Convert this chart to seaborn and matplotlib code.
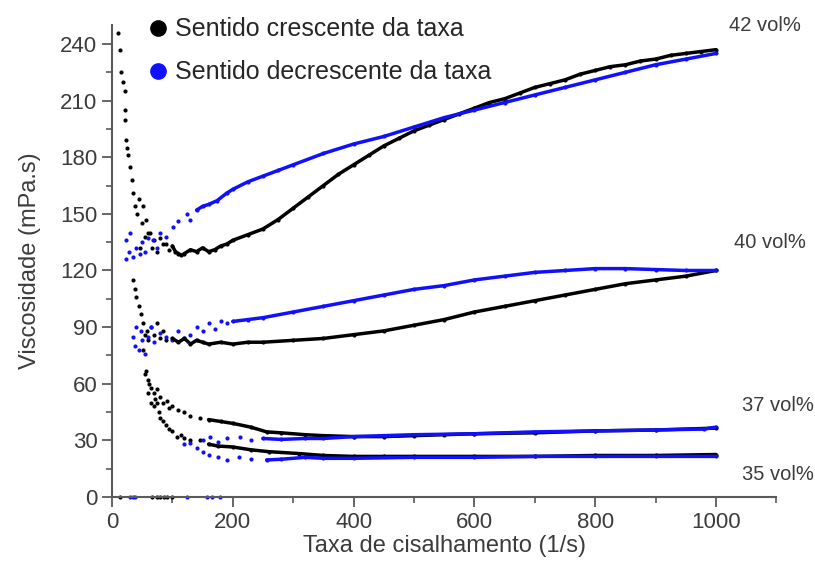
import pandas as pd
import matplotlib
matplotlib.use("Agg")
import matplotlib.pyplot as plt
import seaborn as sns
from matplotlib.lines import Line2D
from matplotlib.ticker import MultipleLocator

# Valores (taxa em 1/s, viscosidade em mPa.s)
# 42 vol% - sentido crescente
x42_up = [10, 13, 15, 18, 21, 21, 22, 24, 25, 27, 30, 33, 35, 38, 41, 44, 46, 50, 52, 55, 57, 60, 63, 66,
          70, 75, 80, 85, 90, 95, 100, 105, 110, 115, 120, 130, 140, 150, 160, 170, 180, 190, 200, 225,
          250, 275, 300, 325, 350, 375, 400, 425, 450, 475, 500, 525, 550, 575, 600, 625, 650, 675, 700,
          725, 750, 775, 800, 825, 850, 875, 900, 925, 950, 975, 1000]
y42_up = [246, 237, 225, 220, 215, 205, 200, 189, 185, 181, 175, 168, 161, 154, 150, 158, 132, 145, 154,
          138, 147, 140, 140, 132, 136, 130, 137, 134, 134, 131, 133, 130, 129, 128, 129, 131, 130, 132,
          130, 131, 133, 134, 136, 139, 142, 147, 153, 159, 165, 171, 176, 181, 186, 190, 194, 197, 200,
          203, 206, 209, 211, 214, 217, 219, 221, 224, 226, 228, 229, 231, 232, 234, 235, 236, 237]
# 42 vol% - sentido decrescente
x42_dn = [24, 24, 28, 30, 35, 40, 46, 50, 55, 60, 68, 75, 80, 90, 101, 110, 124, 130, 140, 150, 160, 174,
          190, 200, 225, 250, 275, 300, 350, 400, 450, 500, 550, 600, 650, 700, 750, 800, 850, 900, 950, 1000]
y42_dn = [136, 126, 130, 140, 127, 132, 129, 135, 130, 137, 136, 132, 140, 138, 143, 146, 150, 147, 152,
          154, 155, 157, 161, 163, 167, 170, 173, 176, 182, 187, 191, 196, 201, 205, 209, 213, 217, 221,
          225, 229, 232, 235]
# 40 vol% - sentido crescente
x40_up = [35, 38, 40, 45, 48, 52, 52, 55, 58, 60, 65, 70, 75, 80, 85, 90, 100, 110, 120, 130, 140, 150,
          160, 180, 200, 225, 250, 300, 350, 400, 450, 500, 550, 600, 650, 700, 750, 800, 850, 900, 950, 1000]
y40_up = [115, 110, 106, 101, 97, 92, 78, 86, 88, 83, 90, 86, 92, 84, 88, 83, 84, 82, 84, 81, 83, 82, 81,
          82, 81, 82, 82, 83, 84, 86, 88, 91, 94, 98, 101, 104, 107, 110, 113, 115, 117, 120]
# 40 vol% - sentido decrescente
x40_dn = [35, 38, 40, 45, 48, 50, 55, 60, 65, 70, 80, 90, 100, 110, 120, 130, 140, 150, 160, 170, 180,
          190, 200, 225, 250, 300, 350, 400, 450, 500, 550, 600, 650, 700, 750, 800, 850, 900, 950, 1000]
y40_dn = [85, 80, 90, 78, 88, 83, 76, 85, 90, 82, 87, 85, 83, 88, 84, 86, 90, 88, 92, 89, 93, 92, 93, 94,
          95, 98, 101, 104, 107, 110, 112, 115, 117, 119, 120, 121, 121, 120.5, 120, 120]
# 37 vol% - sentido crescente
x37_up = [55, 57, 60, 62, 65, 70, 72, 75, 80, 85, 91, 95, 100, 110, 120, 130, 146, 160, 180, 200, 230,
          256, 280, 320, 350, 400, 450, 500, 550, 600, 700, 800, 900, 1000]
y37_up = [65, 67, 62, 60, 58, 55, 52, 57, 53, 50, 51, 47, 48, 46, 45, 43, 42, 41, 40, 39, 37, 34.5, 34,
          33, 32.5, 32, 32, 32.5, 33, 33.5, 34, 35, 35.5, 36.5]
# 37 vol% - sentido decrescente
x37_dn = [150, 162, 175, 190, 212, 230, 250, 280, 320, 350, 400, 450, 500, 600, 700, 800, 900, 980, 1000]
y37_dn = [30, 32, 29, 31, 32, 30, 31, 30.5, 31, 31, 32, 32.5, 33, 33.5, 34.5, 35, 35.5, 36, 37]
# 35 vol% - sentido crescente
x35_up = [60, 65, 70, 74, 78, 80, 85, 90, 95, 100, 107, 115, 120, 130, 146, 160, 175, 200, 230, 260,
          310, 350, 400, 450, 500, 600, 700, 800, 900, 1000]
y35_up = [55, 50, 48, 50, 45, 42, 40, 38, 36, 35, 32, 33, 31, 30, 30, 28, 27, 26.5, 25, 24, 23, 22,
          21.5, 21.5, 21.5, 21.5, 21.5, 22, 22, 22.5]
# 35 vol% - sentido decrescente
x35_dn = [120, 129, 140, 150, 160, 175, 190, 210, 230, 256, 280, 320, 350, 400, 500, 600, 700, 800, 900, 1000]
y35_dn = [28, 28.6, 26, 24, 22, 21, 19.6, 21, 20, 19.6, 20, 21, 20.5, 20.5, 21, 21, 21.5, 21.5, 21.5, 21.5]
# pontos em zero (baixas taxas)
x0_up = [13, 66, 74, 80, 86, 91, 100]
x0_dn = [30, 34, 38, 124, 157, 165, 179]

preto = "#000000"
azul = "#1010ff"
cinza = "#3c3c3c"

# monta tabela longa
partes = []
series = [("42", "up", x42_up, y42_up, 100), ("42", "dn", x42_dn, y42_dn, 140),
          ("40", "up", x40_up, y40_up, 100), ("40", "dn", x40_dn, y40_dn, 200),
          ("37", "up", x37_up, y37_up, 150), ("37", "dn", x37_dn, y37_dn, 250),
          ("35", "up", x35_up, y35_up, 150), ("35", "dn", x35_dn, y35_dn, 250)]
for conc, sent, xs, ys, corte in series:
    d = pd.DataFrame({"taxa": xs, "visc": ys})
    d["conc"] = conc
    d["sentido"] = sent
    d["linha"] = d["taxa"] >= corte
    partes.append(d)
df = pd.concat(partes, ignore_index=True)

sns.set_style("ticks")
plt.rcParams["font.family"] = ["Liberation Sans", "DejaVu Sans"]

fig = plt.figure(figsize=(8.15, 5.61), dpi=100)
ax = fig.add_axes([0.1374, 0.1141, 0.8152, 0.8411])

for sent, cor in [("up", preto), ("dn", azul)]:
    sub = df[df["sentido"] == sent]
    for conc in ["42", "40", "37", "35"]:
        s = sub[(sub["conc"] == conc) & sub["linha"]]
        sns.lineplot(data=s, x="taxa", y="visc", color=cor, linewidth=2.5,
                     estimator=None, sort=True, ax=ax)
    sns.scatterplot(data=sub, x="taxa", y="visc", color=cor, s=9, linewidth=0, ax=ax, clip_on=False)

sns.scatterplot(x=x0_up, y=[0] * len(x0_up), color=preto, s=9, linewidth=0, ax=ax, clip_on=False)
sns.scatterplot(x=x0_dn, y=[0] * len(x0_dn), color=azul, s=9, linewidth=0, ax=ax, clip_on=False)

ax.set_xlim(0, 1100)
ax.set_ylim(0, 250)
ax.xaxis.set_major_locator(MultipleLocator(200))
ax.xaxis.set_minor_locator(MultipleLocator(100))
ax.yaxis.set_major_locator(MultipleLocator(30))
ax.yaxis.set_minor_locator(MultipleLocator(15))
ax.set_xticks([0, 200, 400, 600, 800, 1000])
ax.set_yticks(range(0, 241, 30))
sns.despine(ax=ax)
for lado in ["left", "bottom"]:
    ax.spines[lado].set_color("#5a5a5a")
    ax.spines[lado].set_linewidth(1.5)
ax.tick_params(which="major", length=7, width=1.3, color="#5a5a5a", labelsize=16, labelcolor=cinza)
ax.tick_params(which="minor", length=4, width=1.2, color="#5a5a5a")

ax.set_xlabel("Taxa de cisalhamento (1/s)", fontsize=17, color=cinza, labelpad=2)
ax.set_ylabel("Viscosidade (mPa.s)", fontsize=17, color=cinza, labelpad=14)

for txt, tx, ty in [("42 vol%", 1081, 250), ("40 vol%", 1089, 135),
                    ("37 vol%", 1103, 48.7), ("35 vol%", 1103, 11.7)]:
    ax.text(tx, ty, txt, fontsize=14.5, color=cinza, ha="center", va="center", clip_on=False)

alcas = [Line2D([], [], marker="o", linestyle="none", color=preto, markersize=11),
         Line2D([], [], marker="o", linestyle="none", color=azul, markersize=11)]
fig.legend(alcas, ["Sentido crescente da taxa", "Sentido decrescente da taxa"],
           loc="upper left", bbox_to_anchor=(0.16, 1.0), frameon=False, fontsize=18,
           handlelength=0.8, handletextpad=0.3, labelspacing=0.75, borderaxespad=0.3)

fig.savefig("out.png", dpi=100)
